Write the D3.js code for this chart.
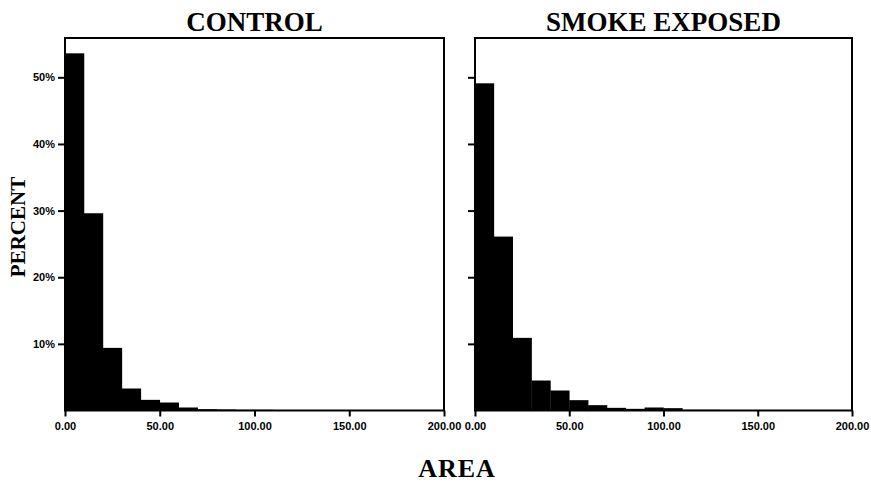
<!DOCTYPE html>
<html>
<head>
<meta charset="utf-8">
<script src="https://cdn.jsdelivr.net/npm/d3@7"></script>
<style>
  body { margin: 0; background: #fff; }
</style>
</head>
<body>
<div id="grafico"></div>
<script>
// bins of width 10 on AREA, values in percent
const binStarts = [0, 10, 20, 30, 40, 50, 60, 70, 80, 90, 100, 110, 120, 130, 140, 150, 160, 170, 180, 190];
const control = [53.6, 29.6, 9.4, 3.3, 1.6, 1.2, 0.45, 0.2, 0.15, 0.1, 0.1, 0.05, 0.05, 0.05, 0.03, 0.03, 0.02, 0.02, 0.02, 0.02];
const smoke = [49.1, 26.1, 10.9, 4.5, 3.0, 1.55, 0.8, 0.4, 0.25, 0.45, 0.35, 0.1, 0.1, 0.05, 0.05, 0.05, 0.03, 0.03, 0.02, 0.02];
const panelTitles = ["CONTROL", "SMOKE EXPOSED"];
const xTicks = [0, 50, 100, 150, 200];
const yTicks = [10, 20, 30, 40, 50];

const width = 871;
const height = 484;
const plotTop = 38, plotBottom = 410.5;
const panels = [
  { title: panelTitles[0], data: control, left: 65, right: 444, labels: true },
  { title: panelTitles[1], data: smoke, left: 475, right: 852, labels: false },
];

const svg = d3
  .select("#grafico")
  .append("svg")
  .attr("width", width)
  .attr("height", height);

const y = d3.scaleLinear().domain([0, 55.9]).range([plotBottom, plotTop]);

panels.forEach((p) => {
  const x = d3.scaleLinear().domain([0, 200]).range([p.left, p.right]);
  const g = svg.append("g");

  // barras
  g.selectAll("rect")
    .data(p.data.map((v, i) => ({ x0: binStarts[i], v })))
    .join("rect")
    .attr("x", (d) => x(d.x0))
    .attr("y", (d) => y(d.v))
    .attr("width", (d) => x(d.x0 + 10) - x(d.x0) + 0.3)
    .attr("height", (d) => y(0) - y(d.v))
    .attr("fill", "#000");

  // marco
  g.append("rect")
    .attr("x", p.left)
    .attr("y", plotTop)
    .attr("width", p.right - p.left)
    .attr("height", plotBottom - plotTop)
    .attr("fill", "none")
    .attr("stroke", "#000")
    .attr("stroke-width", 2);

  // Eje X
  const ax = g
    .append("g")
    .attr("transform", `translate(0,${plotBottom})`)
    .call(d3.axisBottom(x).tickValues(xTicks).tickSize(6).tickPadding(6).tickFormat(d3.format(".2f")));
  ax.select(".domain").remove();
  ax.selectAll("line").attr("stroke-width", 2);
  ax.selectAll("text")
    .style("font-family", "Arial, 'Liberation Sans', sans-serif")
    .style("font-weight", "bold")
    .style("font-size", "11px")
    .attr("fill", "#000");

  // Eje Y
  const ay = g
    .append("g")
    .attr("transform", `translate(${p.left},0)`)
    .call(d3.axisLeft(y).tickValues(yTicks).tickSize(7).tickPadding(3).tickFormat((d) => (p.labels ? d + "%" : "")));
  ay.select(".domain").remove();
  ay.selectAll("line").attr("stroke-width", 2);
  ay.selectAll("text")
    .style("font-family", "Arial, 'Liberation Sans', sans-serif")
    .style("font-weight", "bold")
    .style("font-size", "11px")
    .attr("fill", "#000");

  // titulo
  svg.append("text")
    .attr("x", (p.left + p.right) / 2)
    .attr("y", 31)
    .attr("text-anchor", "middle")
    .style("font-family", "'Liberation Serif', 'Times New Roman', serif")
    .style("font-weight", "bold")
    .style("font-size", "27px")
    .text(p.title);
});

svg.append("text")
  .attr("x", 457)
  .attr("y", 477)
  .attr("text-anchor", "middle")
  .style("font-family", "'Liberation Serif', 'Times New Roman', serif")
  .style("font-weight", "bold")
  .style("font-size", "26px")
  .style("letter-spacing", "1px")
  .text("AREA");

svg.append("text")
  .attr("transform", "translate(25,227) rotate(-90)")
  .attr("text-anchor", "middle")
  .style("font-family", "'Liberation Serif', 'Times New Roman', serif")
  .style("font-weight", "bold")
  .style("font-size", "21px")
  .text("PERCENT");
</script>
</body>
</html>
